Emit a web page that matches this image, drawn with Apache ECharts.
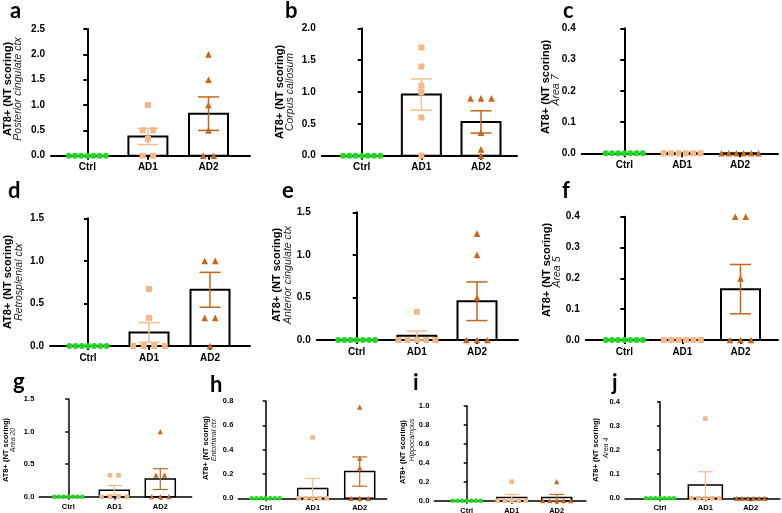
<!DOCTYPE html>
<html>
<head>
<meta charset="utf-8">
<script src="https://cdn.jsdelivr.net/npm/echarts@6/dist/echarts.min.js"></script>
<style>
html,body{margin:0;padding:0;background:#fff;}
#chart{width:782px;height:513px;}
</style>
</head>
<body>
<div id="chart"></div>
<script>
// ---------- DATA ----------
const categories = ['Ctrl', 'AD1', 'AD2'];
const panelLetters = ['a', 'b', 'c', 'd', 'e', 'f', 'g', 'h', 'i', 'j'];
const yTitle = 'AT8+ (NT scoring)';
const regions = ['Posterior cingulate ctx', 'Corpus callosum', 'Area 7', 'Retrosplenial ctx',
  'Anterior cingulate ctx', 'Area 5', 'Area 20', 'Entorhinal ctx', 'Hippocampus', 'Area 4'];
const yMax = [2.5, 2.0, 0.4, 1.5, 1.5, 0.4, 1.5, 0.8, 1.0, 0.4];
const yStep = [0.5, 0.5, 0.1, 0.5, 0.5, 0.1, 0.5, 0.2, 0.2, 0.1];

const ctrlPoints = [
  [0, 0, 0, 0, 0, 0, 0], [0, 0, 0, 0, 0, 0, 0], [0, 0, 0, 0, 0, 0, 0], [0, 0, 0, 0, 0, 0, 0],
  [0, 0, 0, 0, 0, 0, 0], [0, 0, 0, 0, 0, 0, 0], [0, 0, 0, 0, 0, 0, 0], [0, 0, 0, 0, 0, 0, 0],
  [0, 0, 0, 0, 0, 0, 0], [0, 0, 0, 0, 0, 0, 0]
];
const ad1Points = [
  [1.0, 0.5, 0.5, 0.33, 0, 0],
  [1.7, 1.4, 1.1, 1.0, 0.6, 0],
  [0, 0, 0, 0, 0, 0],
  [0.67, 0.33, 0, 0, 0, 0],
  [0.33, 0, 0, 0, 0, 0],
  [0, 0, 0, 0, 0, 0],
  [0.33, 0.33, 0, 0, 0, 0],
  [0.5, 0, 0, 0, 0, 0],
  [0.2, 0, 0, 0, 0, 0],
  [0.33, 0, 0, 0, 0, 0]
];
const ad2Points = [
  [2.0, 1.5, 1.0, 0.5, 0, 0],
  [0.9, 0.9, 0.9, 0.36, 0.1, 0],
  [0, 0, 0, 0, 0, 0],
  [1.0, 1.0, 0.33, 0.33, 0],
  [1.25, 1.0, 0.5, 0, 0, 0],
  [0.4, 0.4, 0.2, 0, 0, 0],
  [1.0, 0.33, 0.33, 0, 0, 0],
  [0.75, 0.33, 0.25, 0, 0, 0],
  [0.2, 0, 0, 0, 0, 0],
  [0, 0, 0, 0, 0, 0]
];
const ad1Mean = [0.38, 0.96, 0, 0.16, 0.05, 0, 0.10, 0.08, 0.033, 0.055];
const ad1Sem  = [0.16, 0.245, 0, 0.115, 0.055, 0, 0.07, 0.083, 0.033, 0.055];
const ad2Mean = [0.83, 0.53, 0, 0.66, 0.455, 0.165, 0.27, 0.22, 0.033, 0];
const ad2Sem  = [0.33, 0.175, 0, 0.205, 0.227, 0.08, 0.16, 0.12, 0.033, 0];

// ---------- LAYOUT (pixels) ----------
// [axisLeft, axisTop, zeroY, axisRight, ctrlCenterX, ad2CenterX, small]
const layout = [
  [51, 29, 155.7, 250, 87.3, 208.5, 0],
  [321.7, 28.3, 155.7, 517, 361.7, 481, 0],
  [581.7, 28.3, 153.3, 778, 624.3, 740, 0],
  [50, 218.3, 346, 250, 88, 210, 0],
  [316.7, 212.3, 340, 518, 356.7, 477, 0],
  [585.7, 216.7, 340, 778, 624.3, 740.5, 0],
  [39.3, 399, 496.7, 191.7, 68.3, 160.3, 1],
  [238.3, 401, 498.3, 386.7, 265.7, 359.7, 1],
  [434.3, 405.7, 500.7, 586, 466.7, 556.7, 1],
  [625, 401.7, 498.3, 780, 660, 750.7, 1]
];
// [boldX, boldY, italicX, italicY]
const titlePos = [
  [8, 89, 18.5, 89], [279.5, 92, 290, 92], [546, 87, 556.5, 90],
  [7.5, 282, 19.5, 282], [276.5, 275, 288, 275], [546.5, 270, 557, 272],
  [6.2, 450, 13.3, 440], [205.5, 448, 214, 440], [403, 452, 412, 440], [596, 450, 606.5, 448]
];
// [left, baseline]
const letterPos = [
  [10, 18], [285, 18], [563, 18], [8, 198], [282, 198], [562, 198],
  [13, 389], [210, 392], [413, 390], [612, 390]
];

const colors = ['#22D622', '#F4B888', '#C8661A'];
const errColors = ['#22D622', '#F3BF92', '#C8661A'];
const symbols = ['circle', 'rect', 'triangle'];
const FONT = '"Liberation Sans", Arial, sans-serif';

function jitter(values, maxGap, spread) {
  // spreads identical values horizontally (pixel offsets)
  const groups = {};
  values.forEach((v, i) => { (groups[v] = groups[v] || []).push(i); });
  const off = new Array(values.length).fill(0);
  Object.keys(groups).forEach(k => {
    const idx = groups[k]; const n = idx.length;
    if (n < 2) return;
    const gap = Math.min(maxGap, spread / (n - 1));
    idx.forEach((ii, j) => { off[ii] = (j - (n - 1) / 2) * gap; });
  });
  return off;
}

const grids = [], xAxes = [], yAxes = [], series = [], graphics = [];

layout.forEach((L, p) => {
  const [left, top, zeroY, right, cx, ax2, small] = L;
  const unit = (ax2 - cx) / 2;
  const xmin = -(cx - left) / unit;
  const xmax = 2 + (right - ax2) / unit;
  const lw = small ? 1.5 : 2;
  const tickFs = small ? 7.5 : 10;
  const barW = small ? (p === 9 ? 34 : 30) : 39;
  const capW = small ? 15 : 21;
  const symSize = small ? 4.6 : 6;
  const maxGap = small ? 8.5 : 10.5;
  const spread = small ? 28 : 37;

  grids.push({ left: left, top: top, width: right - left, height: zeroY - top, containLabel: false, outerBoundsMode: 'none' });
  xAxes.push({
    gridIndex: p, type: 'value', min: xmin, max: xmax,
    axisLine: { show: true, onZero: false, lineStyle: { color: '#000', width: lw } },
    axisTick: { show: true, customValues: [0, 1, 2], length: small ? 3 : 4, lineStyle: { color: '#000', width: lw } },
    axisLabel: { show: true, customValues: [0, 1, 2], formatter: v => categories[Math.round(v)],
      margin: small ? 6 : 7, color: '#000', fontFamily: FONT, fontWeight: 'bold', fontSize: small ? 7.5 : 10 },
    splitLine: { show: false }
  });
  yAxes.push({
    gridIndex: p, type: 'value', min: 0, max: yMax[p], interval: yStep[p],
    axisLine: { show: true, lineStyle: { color: '#000', width: lw } },
    axisTick: { show: true, length: small ? 3 : 4, lineStyle: { color: '#000', width: lw } },
    axisLabel: { formatter: v => v.toFixed(1), margin: small ? 5 : 6, color: '#000',
      fontFamily: FONT, fontWeight: 'bold', fontSize: tickFs },
    splitLine: { show: false }
  });

  const means = [0, ad1Mean[p], ad2Mean[p]];
  const sems = [0, ad1Sem[p], ad2Sem[p]];
  series.push({
    type: 'custom', xAxisIndex: p, yAxisIndex: p, clip: false, z: 2,
    data: categories.map((c, g) => [g, means[g], sems[g]]),
    renderItem: function (params, api) {
      const g = api.value(0), m = api.value(1), s = api.value(2);
      const base = api.coord([g, 0]);
      const topP = api.coord([g, m]);
      const children = [];
      if (g > 0) {
        children.push({
          type: 'rect',
          shape: { x: base[0] - barW / 2, y: topP[1], width: barW, height: base[1] - topP[1] },
          style: { fill: '#fff', stroke: '#000', lineWidth: lw }
        });
      }
      if (s > 0) {
        const hi = api.coord([g, m + s]);
        const lo = api.coord([g, Math.max(0, m - s)]);
        const st = { stroke: errColors[g], lineWidth: small ? 1.2 : 1.5 };
        children.push({ type: 'line', shape: { x1: hi[0], y1: hi[1], x2: lo[0], y2: lo[1] }, style: st });
        children.push({ type: 'line', shape: { x1: hi[0] - capW / 2, y1: hi[1], x2: hi[0] + capW / 2, y2: hi[1] }, style: st });
        children.push({ type: 'line', shape: { x1: lo[0] - capW / 2, y1: lo[1], x2: lo[0] + capW / 2, y2: lo[1] }, style: st });
      }
      return { type: 'group', children: children };
    }
  });

  [ctrlPoints[p], ad1Points[p], ad2Points[p]].forEach((vals, g) => {
    const off = jitter(vals, maxGap, spread);
    series.push({
      type: 'scatter', xAxisIndex: p, yAxisIndex: p, clip: false, z: 5,
      symbol: symbols[g], symbolSize: g === 2 ? symSize + 0.6 : symSize,
      itemStyle: { color: colors[g], opacity: 1 },
      data: vals.map((v, i) => ({ value: [g, v], symbolOffset: [off[i], 0] })),
      emphasis: { disabled: true }
    });
  });

  // axis title (two lines, rotated)
  const tp = titlePos[p];
  graphics.push({
    type: 'text', x: tp[0], y: tp[1], rotation: Math.PI / 2,
    style: { text: yTitle, fill: '#000', font: 'bold ' + (small ? 7.5 : 11) + 'px ' + FONT,
      align: 'center', verticalAlign: 'middle' }
  });
  graphics.push({
    type: 'text', x: tp[2], y: tp[3], rotation: Math.PI / 2,
    style: { text: regions[p], fill: '#222', font: 'italic ' + (small ? 7 : 10.5) + 'px ' + FONT,
      align: 'center', verticalAlign: 'middle' }
  });
  const lp = letterPos[p];
  graphics.push({
    type: 'text', x: lp[0], y: lp[1] + 4,
    style: { text: panelLetters[p], fill: '#000', font: 'bold 22px Lato, "Open Sans", sans-serif',
      align: 'left', verticalAlign: 'bottom' }
  });
});

const chart = echarts.init(document.getElementById('chart'), null, { renderer: 'canvas' });
chart.setOption({
  animation: false,
  backgroundColor: '#fff',
  grid: grids, xAxis: xAxes, yAxis: yAxes, series: series,
  graphic: { elements: graphics }
});
</script>
</body>
</html>
